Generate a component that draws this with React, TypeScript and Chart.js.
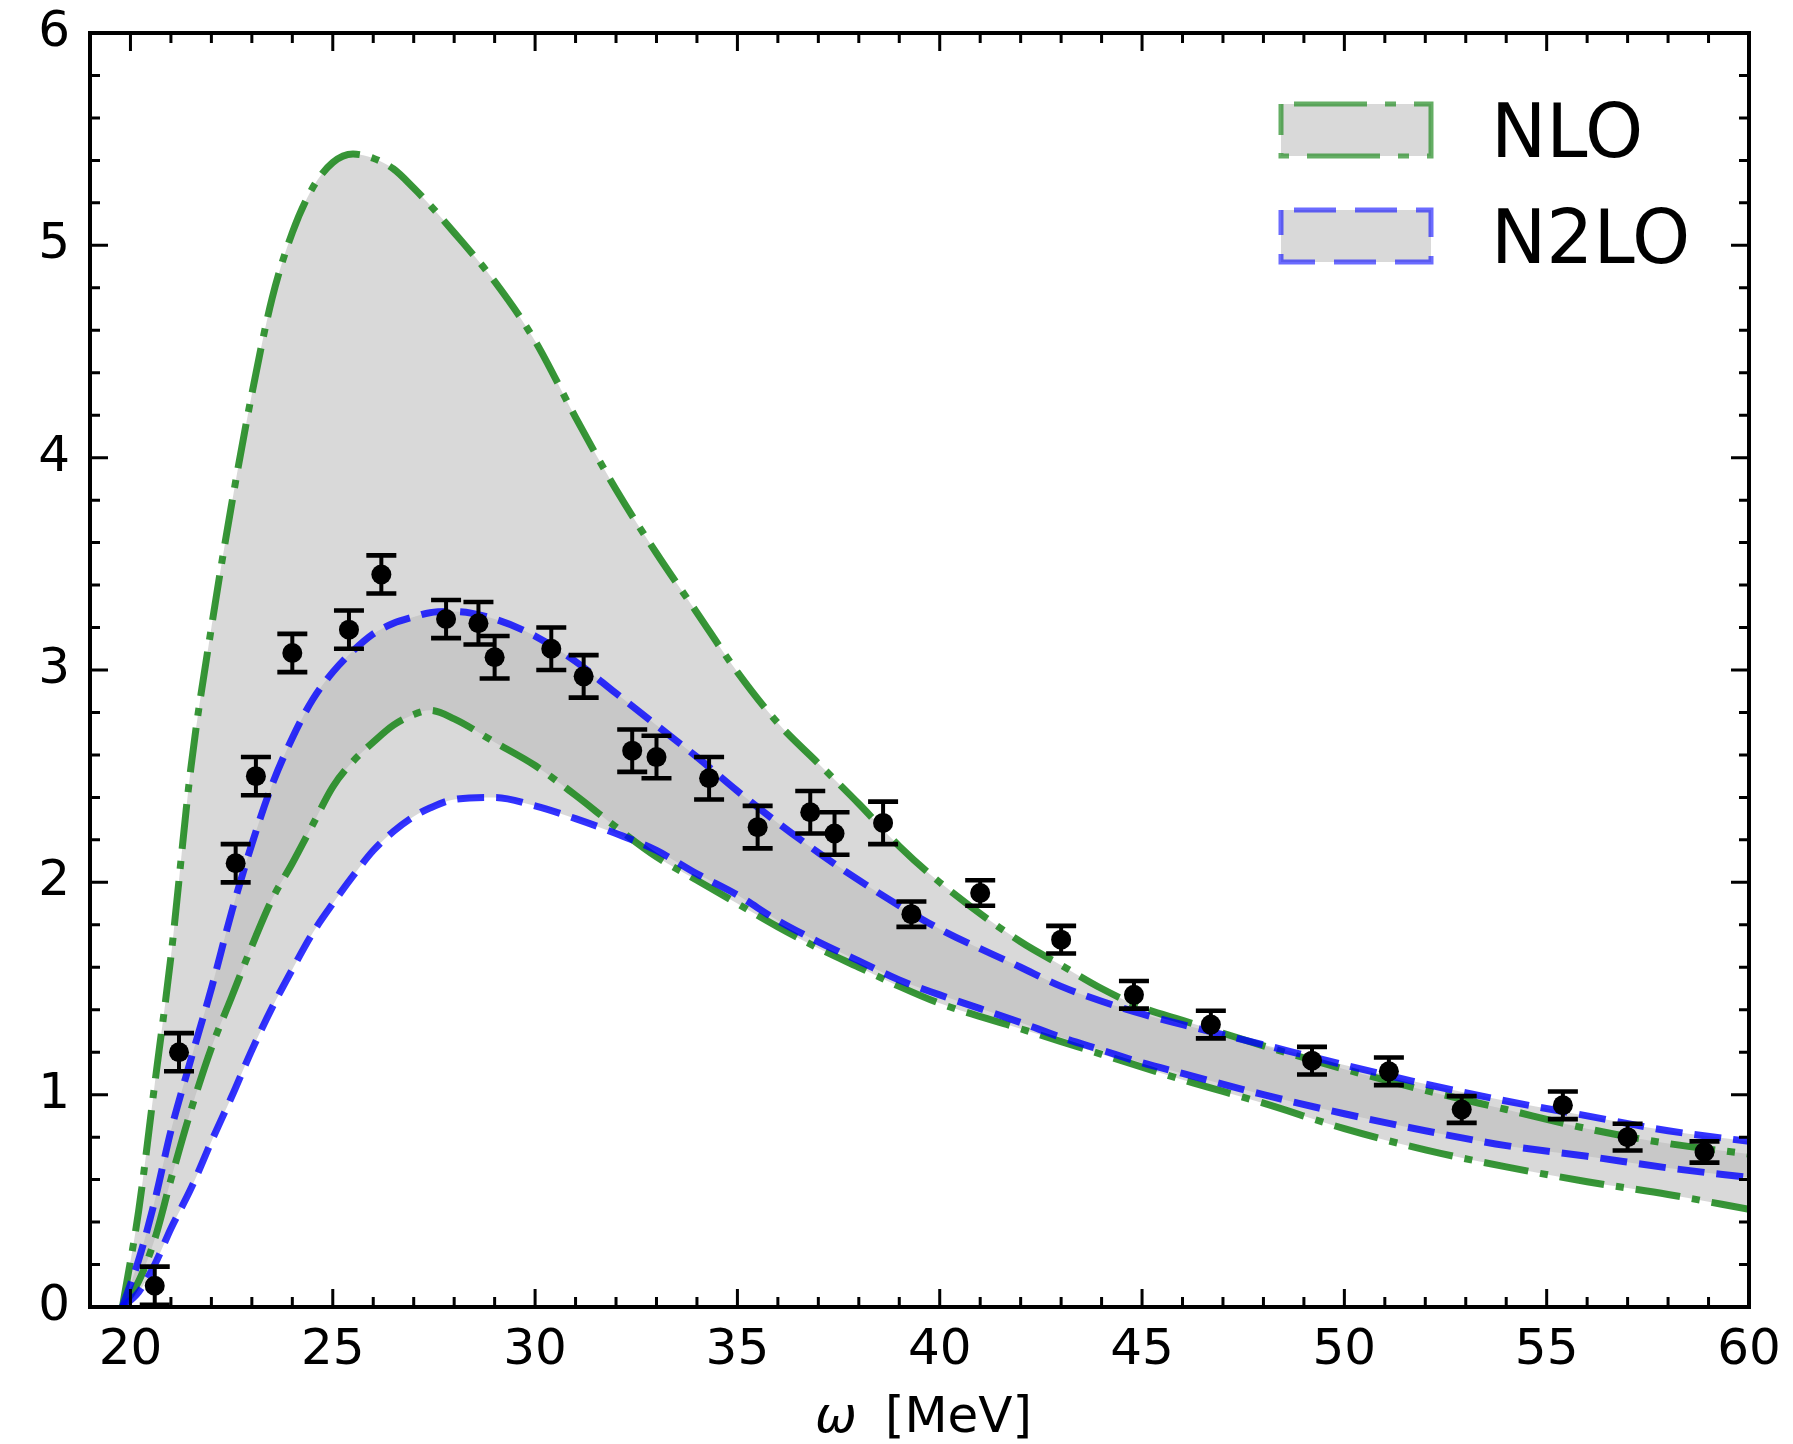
import React, { useEffect, useRef } from 'react';
import { Chart, registerables } from 'chart.js';

Chart.register(...registerables);

// ---- data ----
const omega = [19.8, 20.2, 20.6, 21.0, 21.5, 22.0, 22.5, 23.0, 23.5, 24.0, 24.5, 25.0, 25.5, 26.0, 26.5, 27.0, 27.4, 28.0, 29.0, 30.0, 31.0, 32.0, 33.0, 34.0, 35.0, 36.0, 37.0, 38.0, 39.0, 40.0, 42.0, 43.0, 44.0, 45.0, 46.0, 48.0, 50.0, 52.0, 54.0, 56.0, 58.0, 60.0];
const nloUpper = [0, 0.45, 1.05, 1.65, 2.55, 3.2, 3.78, 4.3, 4.75, 5.06, 5.27, 5.39, 5.43, 5.41, 5.36, 5.27, 5.19, 5.06, 4.83, 4.55, 4.19, 3.85, 3.55, 3.27, 2.99, 2.75, 2.56, 2.37, 2.17, 2.0, 1.72, 1.61, 1.5, 1.41, 1.35, 1.23, 1.12, 1.02, 0.93, 0.84, 0.77, 0.72];
const nloLower = [0, 0.12, 0.32, 0.6, 0.93, 1.22, 1.46, 1.7, 1.92, 2.09, 2.27, 2.45, 2.57, 2.66, 2.74, 2.79, 2.81, 2.77, 2.66, 2.55, 2.41, 2.26, 2.12, 2.01, 1.9, 1.79, 1.69, 1.6, 1.51, 1.43, 1.31, 1.25, 1.19, 1.13, 1.07, 0.96, 0.84, 0.74, 0.66, 0.59, 0.53, 0.46];
const n2loUpper = [0, 0.22, 0.5, 0.83, 1.17, 1.5, 1.86, 2.18, 2.46, 2.68, 2.86, 2.99, 3.09, 3.17, 3.22, 3.25, 3.27, 3.275, 3.24, 3.16, 3.04, 2.89, 2.74, 2.59, 2.43, 2.28, 2.14, 2.01, 1.89, 1.78, 1.6, 1.51, 1.44, 1.38, 1.33, 1.235, 1.14, 1.05, 0.97, 0.9, 0.83, 0.78];
const n2loLower = [0, 0.07, 0.2, 0.37, 0.56, 0.78, 0.99, 1.21, 1.41, 1.59, 1.76, 1.9, 2.03, 2.15, 2.24, 2.31, 2.35, 2.39, 2.4, 2.36, 2.3, 2.23, 2.15, 2.04, 1.94, 1.82, 1.72, 1.63, 1.54, 1.47, 1.34, 1.27, 1.21, 1.15, 1.1, 1.0, 0.91, 0.83, 0.76, 0.71, 0.655, 0.61];

const expOmega = [20.6, 21.2, 22.6, 23.1, 24.0, 25.4, 26.2, 27.8, 28.6, 29.0, 30.4, 31.2, 32.4, 33.0, 34.3, 35.5, 36.8, 37.4, 38.6, 39.3, 41.0, 43.0, 44.8, 46.7, 49.2, 51.1, 52.9, 55.4, 57.0, 58.9];
const expValue = [0.10, 1.20, 2.09, 2.50, 3.08, 3.19, 3.45, 3.24, 3.22, 3.06, 3.10, 2.97, 2.62, 2.59, 2.49, 2.26, 2.33, 2.23, 2.28, 1.85, 1.95, 1.73, 1.47, 1.33, 1.16, 1.11, 0.93, 0.95, 0.80, 0.73];
const expError = [0.09, 0.09, 0.09, 0.09, 0.09, 0.09, 0.09, 0.09, 0.10, 0.10, 0.10, 0.10, 0.10, 0.10, 0.10, 0.10, 0.10, 0.10, 0.10, 0.06, 0.06, 0.065, 0.065, 0.065, 0.065, 0.065, 0.063, 0.065, 0.063, 0.05];

const xTicks = [20, 25, 30, 35, 40, 45, 50, 55, 60];
const yTicks = [0, 1, 2, 3, 4, 5, 6];
const legendLabels = ['NLO', 'N2LO'];
const xTitleSymbol = 'ω';
const xTitleUnit = '[MeV]';

// ---- styles ----
const GREEN = 'rgba(34,139,34,0.9)';
const BLUE = 'rgba(0,0,255,0.8)';
const GREEN_LEG = 'rgba(34,139,34,0.7)';
const BLUE_LEG = 'rgba(0,0,255,0.58)';
const BAND = 'rgba(186,186,186,0.55)';
const FONT = '"DejaVu Sans", "Liberation Sans", sans-serif';
const DASH_DOT = [45, 12, 8, 12];
const DASH = [27, 12];

const errorBarPlugin = {
  id: 'errorBars',
  afterDatasetDraw(chart: any, args: any) {
    if (args.index !== 4) return;
    const { ctx, scales } = chart;
    const x = scales.x, y = scales.y;
    ctx.save();
    ctx.strokeStyle = '#000';
    ctx.lineCap = 'butt';
    for (let i = 0; i < expOmega.length; i++) {
      const px = x.getPixelForValue(expOmega[i]);
      const top = y.getPixelForValue(expValue[i] + expError[i]);
      const bot = y.getPixelForValue(expValue[i] - expError[i]);
      ctx.lineWidth = 4;
      ctx.beginPath();
      ctx.moveTo(px, top);
      ctx.lineTo(px, bot);
      ctx.stroke();
      ctx.lineWidth = 4.6;
      ctx.beginPath();
      ctx.moveTo(px - 15, top);
      ctx.lineTo(px + 15, top);
      ctx.moveTo(px - 15, bot);
      ctx.lineTo(px + 15, bot);
      ctx.stroke();
    }
    ctx.restore();
  },
};

const framePlugin = {
  id: 'frameTicksLegend',
  afterDraw(chart: any) {
    const { ctx, chartArea: a, scales } = chart;
    const x = scales.x, y = scales.y;
    ctx.save();
    ctx.strokeStyle = '#000';
    ctx.lineCap = 'butt';
    ctx.lineWidth = 3;
    ctx.beginPath();
    for (let v = Math.ceil(x.min); v <= x.max; v++) {
      const len = v % 5 === 0 ? 18 : 10;
      const px = x.getPixelForValue(v);
      ctx.moveTo(px, a.bottom);
      ctx.lineTo(px, a.bottom - len);
      ctx.moveTo(px, a.top);
      ctx.lineTo(px, a.top + len);
    }
    for (let i = 0; i <= 30; i++) {
      const len = i % 5 === 0 ? 18 : 10;
      const py = y.getPixelForValue(i * 0.2);
      ctx.moveTo(a.left, py);
      ctx.lineTo(a.left + len, py);
      ctx.moveTo(a.right, py);
      ctx.lineTo(a.right - len, py);
    }
    ctx.stroke();
    ctx.lineWidth = 4;
    ctx.strokeRect(a.left, a.top, a.right - a.left, a.bottom - a.top);

    // legend
    const entries = [
      { label: legendLabels[0], color: GREEN_LEG, dash: [73, 18, 11, 18], cy: 130 },
      { label: legendLabels[1], color: BLUE_LEG, dash: [42, 19], cy: 236 },
    ];
    for (const e of entries) {
      const bx = 1281, bw = 150, bh = 52, by = e.cy - bh / 2;
      ctx.fillStyle = '#d9d9d9';
      ctx.fillRect(bx, by, bw, bh);
      ctx.setLineDash(e.dash);
      ctx.lineDashOffset = -13;
      ctx.strokeStyle = e.color;
      ctx.lineWidth = 5;
      ctx.strokeRect(bx, by, bw, bh);
      ctx.setLineDash([]);
      ctx.fillStyle = '#000';
      ctx.font = `74px ${FONT}`;
      ctx.textAlign = 'left';
      ctx.textBaseline = 'alphabetic';
      ctx.fillText(e.label, 1491, e.cy + 27);
    }

    // x-axis title
    ctx.fillStyle = '#000';
    ctx.textBaseline = 'alphabetic';
    ctx.font = `italic 50px ${FONT}`;
    const w1 = ctx.measureText(xTitleSymbol).width;
    ctx.font = `50px ${FONT}`;
    const w2 = ctx.measureText(xTitleUnit).width;
    const gap = 28;
    const cx = (a.left + a.right) / 2 + 4;
    const start = cx - (w1 + gap + w2) / 2;
    ctx.font = `italic 50px ${FONT}`;
    ctx.fillText(xTitleSymbol, start, 1432);
    ctx.font = `50px ${FONT}`;
    ctx.fillText(xTitleUnit, start + w1 + gap, 1432);
    ctx.restore();
  },
};

function pts(xs: number[], ys: number[]) {
  return xs.map((v, i) => ({ x: v, y: ys[i] }));
}

export default function App() {
  const ref = useRef<HTMLCanvasElement>(null);
  useEffect(() => {
    document.body.style.margin = '0';
    const lineCommon = {
      pointRadius: 0,
      borderWidth: 7,
      cubicInterpolationMode: 'monotone' as const,
      backgroundColor: BAND,
    };
    const chart = new Chart(ref.current as HTMLCanvasElement, {
      type: 'line',
      data: {
        datasets: [
          { ...lineCommon, label: 'NLO', data: pts(omega, nloUpper), borderColor: GREEN, borderDash: DASH_DOT, fill: '+1', order: 2 },
          { ...lineCommon, label: 'NLO (lower)', data: pts(omega, nloLower), borderColor: GREEN, borderDash: DASH_DOT, fill: false, order: 2 },
          { ...lineCommon, label: 'N2LO', data: pts(omega, n2loUpper), borderColor: BLUE, borderDash: DASH, fill: '+1', order: 1 },
          { ...lineCommon, label: 'N2LO (lower)', data: pts(omega, n2loLower), borderColor: BLUE, borderDash: DASH, fill: false, order: 1 },
          {
            type: 'scatter' as any,
            label: 'data',
            data: pts(expOmega, expValue),
            pointRadius: 10,
            pointBackgroundColor: '#000',
            backgroundColor: '#000',
            borderWidth: 0,
            showLine: false,
            order: 0,
          } as any,
        ],
      },
      options: {
        animation: false,
        responsive: false,
        devicePixelRatio: 1,
        layout: { padding: { top: 33, right: 44, left: 0, bottom: 0 } },
        plugins: {
          legend: { display: false },
          tooltip: { enabled: false },
          filler: { drawTime: 'beforeDatasetsDraw' },
        } as any,
        scales: {
          x: {
            type: 'linear',
            min: 19,
            max: 60,
            afterBuildTicks: (s: any) => { s.ticks = xTicks.map((v) => ({ value: v })); },
            afterFit: (s: any) => { s.height = 137; s.paddingLeft = 0; s.paddingRight = 0; },
            grid: { display: false, drawTicks: false },
            border: { display: false },
            ticks: { font: { family: FONT, size: 50 }, color: '#000', padding: 14, maxRotation: 0, autoSkip: false },
          },
          y: {
            type: 'linear',
            min: 0,
            max: 6,
            afterBuildTicks: (s: any) => { s.ticks = yTicks.map((v) => ({ value: v })); },
            afterFit: (s: any) => { s.width = 90; s.paddingTop = 0; s.paddingBottom = 0; },
            grid: { display: false, drawTicks: false },
            border: { display: false },
            ticks: { font: { family: FONT, size: 50 }, color: '#000', padding: 20, autoSkip: false },
          },
        },
      },
      plugins: [errorBarPlugin, framePlugin],
    });
    return () => chart.destroy();
  }, []);
  return (
    <div style={{ position: 'fixed', left: 0, top: 0, width: 1793, height: 1444, background: '#fff' }}>
      <canvas ref={ref} width={1793} height={1444} style={{ display: 'block' }} />
    </div>
  );
}
